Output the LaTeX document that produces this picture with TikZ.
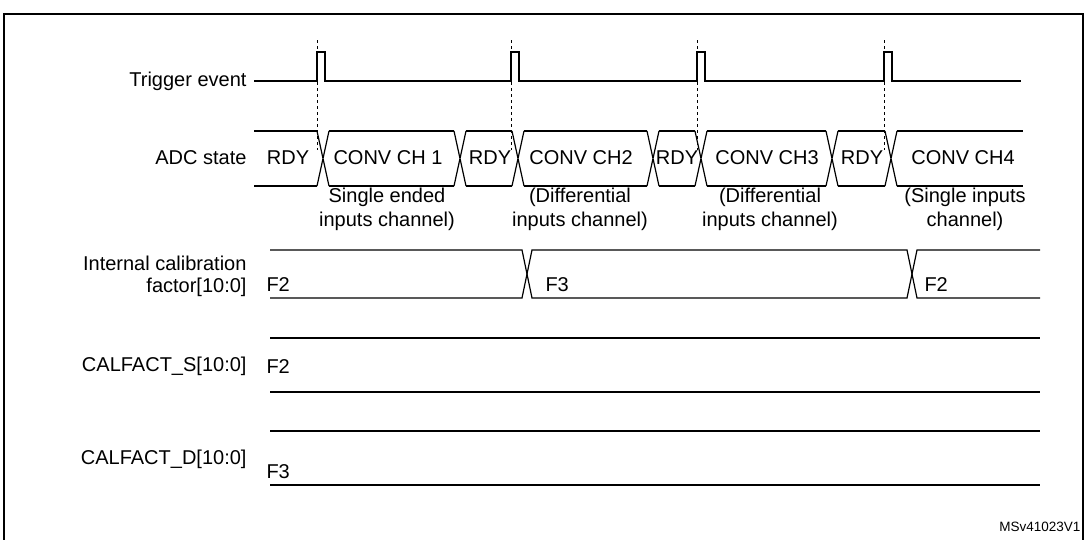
\documentclass[tikz,border=0pt]{standalone}
\usepackage{fontspec}
\setmainfont{Liberation Sans}
\begin{document}
\begin{tikzpicture}[x=1pt,y=-1pt,line width=1pt,
  lbl/.style={anchor=east,font=\fontsize{20}{23}\selectfont,align=right,inner sep=2pt},
  txt/.style={font=\fontsize{20}{23}\selectfont,align=center,inner sep=0pt},
  sig/.style={line width=1.2pt}]
\useasboundingbox (0,0) rectangle (1087,539);
\draw[line width=2pt] (4,560) -- (4,14) -- (1083,14) -- (1083,560);
% labels
\node[lbl] (l1) at (249,81) {Trigger event};
\node[lbl] (l2) at (249,158) {ADC state};
\node[lbl,font=\fontsize{20}{22}\selectfont] (l3) at (249,276) {Internal calibration\\factor[10:0]};
\node[lbl] (l4) at (249,366) {CALFACT\_S[10:0]};
\node[lbl] (l5) at (249,459) {CALFACT\_D[10:0]};
% trigger
\draw[sig] (254,81) -- (317,81) -- (317,52) -- (325,52) -- (325,81)
  -- (511,81) -- (511,52) -- (519,52) -- (519,81)
  -- (697,81) -- (697,52) -- (705,52) -- (705,81)
  -- (884,81) -- (884,52) -- (892,52) -- (892,81) -- (1021,81);
\foreach \x in {317,511,697,884} \draw[dashed,line width=0.9pt] (\x,40) -- (\x,150);
% ADC state bus
\def\bt{131}\def\bb{186}\def\hw{6}
\foreach \c in {323,460,518,653,701,832,891}
  \draw[sig] (\c-\hw,\bt) -- (\c+\hw,\bb) (\c-\hw,\bb) -- (\c+\hw,\bt);
\draw[sig] (254,\bt) -- (323-\hw,\bt) (254,\bb) -- (323-\hw,\bb);
\draw[sig] (323+\hw,\bt) -- (460-\hw,\bt) (323+\hw,\bb) -- (460-\hw,\bb);
\draw[sig] (460+\hw,\bt) -- (518-\hw,\bt) (460+\hw,\bb) -- (518-\hw,\bb);
\draw[sig] (518+\hw,\bt) -- (653-\hw,\bt) (518+\hw,\bb) -- (653-\hw,\bb);
\draw[sig] (653+\hw,\bt) -- (701-\hw,\bt) (653+\hw,\bb) -- (701-\hw,\bb);
\draw[sig] (701+\hw,\bt) -- (832-\hw,\bt) (701+\hw,\bb) -- (832-\hw,\bb);
\draw[sig] (832+\hw,\bt) -- (891-\hw,\bt) (832+\hw,\bb) -- (891-\hw,\bb);
\draw[sig] (891+\hw,\bt) -- (1023,\bt) (891+\hw,\bb) -- (1023,\bb);
\node[txt] (s1) at (288,158) {RDY};
\node[txt] (s2) at (388,158) {CONV CH 1};
\node[txt] (s3) at (490,158) {RDY};
\node[txt] (s4) at (581,158) {CONV CH2};
\node[txt] (s5) at (677,158) {RDY};
\node[txt] (s6) at (767,158) {CONV CH3};
\node[txt] (s7) at (862,158) {RDY};
\node[txt] (s8) at (963,158) {CONV CH4};
\node[txt,font=\fontsize{20}{24}\selectfont] (d1) at (387,209) {Single ended\\inputs channel)};
\node[txt,font=\fontsize{20}{24}\selectfont] (d2) at (580,209) {(Differential\\inputs channel)};
\node[txt,font=\fontsize{20}{24}\selectfont] (d3) at (770,209) {(Differential\\inputs channel)};
\node[txt,font=\fontsize{20}{24}\selectfont] (d4) at (965,209) {(Single inputs\\channel)};
% calibration
\def\ct{250}\def\cb{298}
\draw[sig] (270,\ct) -- (527-5,\ct) -- (527+5,\cb) -- (912-5,\cb) -- (912+5,\ct) -- (1040,\ct);
\draw[sig] (270,\cb) -- (527-5,\cb) -- (527+5,\ct) -- (912-5,\ct) -- (912+5,\cb) -- (1040,\cb);
\node[txt,anchor=west] (f1) at (266,285) {F2};
\node[txt,anchor=west] (f2) at (545,285) {F3};
\node[txt,anchor=west] (f3) at (924,285) {F2};
% CALFACT_S
\draw[sig] (270,338) -- (1040,338) (270,392) -- (1040,392);
\node[txt,anchor=west] (g1) at (266,367) {F2};
% CALFACT_D
\draw[sig] (270,431) -- (1040,431) (270,485) -- (1040,485);
\node[txt,anchor=west] (h1) at (266,472) {F3};
\node[anchor=east,font=\fontsize{13.5}{15}\selectfont,inner sep=1pt] (ref) at (1082,527) {MSv41023V1};
\end{tikzpicture}
\end{document}
